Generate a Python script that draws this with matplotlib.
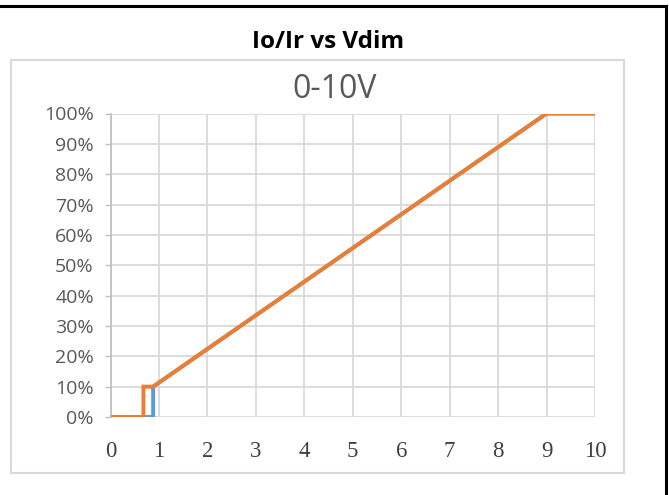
import matplotlib.pyplot as plt
from matplotlib.lines import Line2D
from matplotlib.patches import Rectangle
from matplotlib.ticker import FuncFormatter

# Dimming curve: output current ratio (%) vs dimming voltage (V)
blue_v = [0, 0.88, 0.88, 9, 10]
blue_pct = [0, 0, 10, 100, 100]
orange_v = [0, 0.68, 0.68, 0.88, 9, 10]
orange_pct = [0, 0, 10, 10, 100, 100]

x_ticks = list(range(0, 11))
y_ticks = list(range(0, 101, 10))

GRID = "#d9d9d9"
TEXT = "#595959"
W, H = 669, 495

fig = plt.figure(figsize=(6.69, 4.95), dpi=100)

# outer black frame (only top and right edges are visible in the crop)
fig.add_artist(Line2D([0, 666 / W], [1 - 6 / H, 1 - 6 / H], transform=fig.transFigure,
                      color="black", linewidth=2.2))
fig.add_artist(Line2D([666 / W, 666 / W], [0, 1 - 6 / H], transform=fig.transFigure,
                      color="black", linewidth=2.2))
# inner light chart border
fig.patches.append(Rectangle((11 / W, 1 - 473 / H), (624 - 11) / W, (473 - 60) / H,
                             transform=fig.transFigure, fill=False, edgecolor="#d9d9d9", linewidth=1.5))

fig.text(328 / W, 1 - 42 / H, "Io/Ir vs Vdim", ha="center", va="center", fontsize=17.5,
         fontweight="bold", family="Open Sans")
fig.text(335 / W, 1 - 89 / H, "0-10V", ha="center", va="center", fontsize=23,
         color=TEXT, family="Open Sans")

ax = fig.add_axes([110.5 / W, 1 - 417 / H, (595 - 110.5) / W, (417 - 113.5) / H])

ax.plot(blue_v, blue_pct, color="#5B9BD5", linewidth=2.8, solid_joinstyle="miter", zorder=3)
ax.plot(orange_v, orange_pct, color="#ED7D31", linewidth=2.8, solid_joinstyle="miter", zorder=4)

ax.set_xlim(0, 10)
ax.set_ylim(0, 100)
ax.set_xticks(x_ticks)
ax.set_yticks(y_ticks)
ax.yaxis.set_major_formatter(FuncFormatter(lambda v, p: f"{int(v)}%"))

ax.grid(True, color=GRID, linewidth=1.3)
ax.set_axisbelow(True)
for s in ["top", "right", "bottom"]:
    ax.spines[s].set_visible(False)
ax.spines["left"].set_color("#bfbfbf")
ax.spines["left"].set_linewidth(1.2)

ax.tick_params(axis="x", length=0, pad=17, labelsize=16.5, labelcolor="#404040")
ax.tick_params(axis="y", length=4, width=1, color="#bfbfbf", pad=8, labelsize=14, labelcolor=TEXT)
for lab in ax.get_xticklabels():
    lab.set_family("Liberation Serif")
for lab in ax.get_yticklabels():
    lab.set_family("Open Sans")

fig.savefig("out.png", dpi=100)
